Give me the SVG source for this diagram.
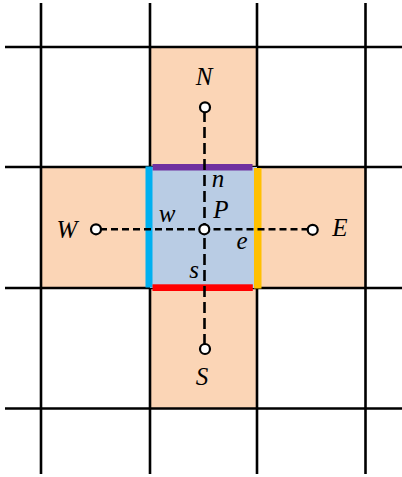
<svg xmlns="http://www.w3.org/2000/svg" width="402" height="477" viewBox="0 0 402 477">
<style>
.grid{stroke:#000;stroke-width:2.6;fill:none}
.dash{stroke:#000;stroke-width:2.6;fill:none}
.dh{stroke-dasharray:7 4}
.dv{stroke-dasharray:11 5}
.pt{fill:#fff;stroke:#000;stroke-width:2.2}
.lbl{font-family:"Liberation Serif","Times New Roman",serif;font-style:italic;font-size:25px;fill:#000;text-anchor:middle}
.arm{fill:#FBD5B6}
</style>
<rect width="402" height="477" fill="#fff"/>
<g id="cross">
<rect class="arm" x="150" y="47" width="107" height="361"/>
<rect class="arm" x="41" y="167" width="324" height="121"/>
</g>
<g id="grid">
<line class="grid" x1="41" y1="3" x2="41" y2="474"/>
<line class="grid" x1="150" y1="3" x2="150" y2="474"/>
<line class="grid" x1="257" y1="3" x2="257" y2="474"/>
<line class="grid" x1="365.5" y1="3" x2="365.5" y2="474"/>
<line class="grid" x1="5" y1="47" x2="402" y2="47"/>
<line class="grid" x1="5" y1="167" x2="402" y2="167"/>
<line class="grid" x1="5" y1="288" x2="402" y2="288"/>
<line class="grid" x1="5" y1="408.5" x2="402" y2="408.5"/>
</g>
<g id="cellP">
<rect x="150" y="167" width="107" height="121" fill="#B9CCE4"/>
</g>
<g id="faces">
<rect id="face-n" x="152.5" y="164" width="100" height="6.5" fill="#7030A0"/>
<rect id="face-w" x="145.5" y="166.5" width="7" height="121" fill="#00B0F0"/>
<rect id="face-e" x="254" y="168" width="7.5" height="120.5" fill="#FFC000"/>
<rect id="face-s" x="152.5" y="284.3" width="100.3" height="6.7" fill="#FF0000"/>
</g>
<g id="connectors">
<line class="dash dh" x1="100" y1="229.3" x2="204" y2="229.3"/>
<line class="dash dh" x1="308.5" y1="229.3" x2="204" y2="229.3"/>
<line class="dash dv" x1="204.5" y1="111" x2="204.5" y2="229"/>
<line class="dash dv" x1="204.5" y1="345" x2="204.5" y2="229"/>
</g>
<g id="node-P"><circle class="pt" cx="204.3" cy="229.3" r="5"/><text class="lbl" x="221" y="218">P</text></g>
<g id="node-W"><circle class="pt" cx="96" cy="229.3" r="5"/><text class="lbl" x="67" y="237.5">W</text></g>
<g id="node-E"><circle class="pt" cx="312.7" cy="229.8" r="5"/><text class="lbl" x="340" y="236">E</text></g>
<g id="node-N"><circle class="pt" cx="205" cy="107.3" r="5"/><text class="lbl" x="204" y="85">N</text></g>
<g id="node-S"><circle class="pt" cx="205" cy="349" r="5"/><text class="lbl" x="202" y="385">S</text></g>
<g id="face-labels">
<text class="lbl" x="218" y="187">n</text>
<text class="lbl" x="167" y="221.5">w</text>
<text class="lbl" x="242" y="249">e</text>
<text class="lbl" x="194" y="278">s</text>
</g>
</svg>
